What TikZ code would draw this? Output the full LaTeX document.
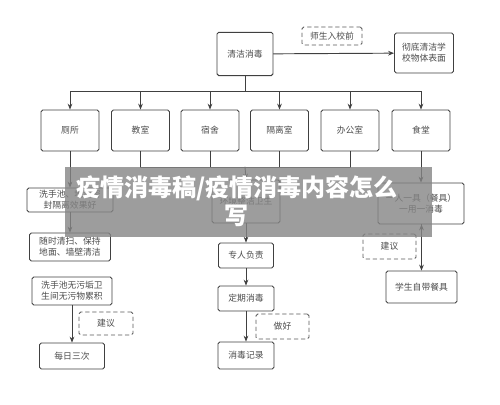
\documentclass[tikz,border=0pt]{standalone}
\usepackage{fontspec}
\setmainfont{Noto Sans CJK SC}
\usepackage{tikz}
\usetikzlibrary{arrows.meta}

\begin{document}
\begin{tikzpicture}
		[x=0.03cm,y=-0.03cm,line cap=round,
		%Styles
		>={Stealth[length=5pt,width=4pt]},
		flow line/.style={thick,draw=black!75},
		main box/.style={rectangle,rounded corners=1.5pt,draw=black!75,thick,fill=white,
			text=black!70,font=\fontsize{7.5}{9.5}\selectfont,align=center,inner sep=1pt},
		hint box/.style={main box,dashed,draw=black!65},
		banner text/.style={text=white,font=\bfseries\fontsize{20.5}{24}\selectfont,align=center}
		]
		
		\useasboundingbox (0,0) rectangle (500,405);
		
		%Top row
		\node[main box,minimum width=1.68cm,minimum height=1.3cm] (clean) at (245, 54) {清洁消毒};
		\node[hint box,minimum width=1.8cm,minimum height=0.54cm] (before) at (332, 36) {师生入校前};
		\node[main box,minimum width=1.77cm,minimum height=1.2cm] (surface) at (424, 53) {彻底清洁学\\校物体表面};
		
		%Places
		\node[main box,minimum width=1.74cm,minimum height=1.23cm] (toilet) at (70, 130.5) {厕所};
		\node[main box,minimum width=1.74cm,minimum height=1.23cm] (classroom) at (140.5, 130.5) {教室};
		\node[main box,minimum width=1.74cm,minimum height=1.23cm] (dorm) at (210, 130.5) {宿舍};
		\node[main box,minimum width=1.74cm,minimum height=1.23cm] (isolation) at (279.5, 130.5) {隔离室};
		\node[main box,minimum width=1.74cm,minimum height=1.23cm] (office) at (350, 130.5) {办公室};
		\node[main box,minimum width=1.74cm,minimum height=1.23cm] (canteen) at (421, 130.5) {食堂};
		
		%Toilet column
		\node[main box,minimum width=2.58cm,minimum height=0.72cm] (drain) at (70, 200) {洗手池、地漏密\\封隔离效果好};
		\node[main box,minimum width=2.43cm,minimum height=0.84cm] (sweep) at (70, 247) {随时清扫、保持\\地面、墙壁清洁};
		\node[main box,minimum width=2.4cm,minimum height=0.84cm] (nostain) at (72, 291) {洗手池无污垢卫\\生间无污物累积};
		\node[hint box,minimum width=1.62cm,minimum height=0.69cm] (adviseA) at (106, 323.5) {建议};
		\node[main box,minimum width=1.95cm,minimum height=0.78cm] (daily) at (72, 356) {每日三次};
		
		%Middle column
		\node[main box,minimum width=2.04cm,minimum height=1.29cm] (tidy) at (246, 201.5) {环境整洁卫生};
		\node[main box,minimum width=1.65cm,minimum height=0.75cm] (duty) at (246, 255.5) {专人负责};
		\node[main box,minimum width=1.68cm,minimum height=0.75cm] (regular) at (246, 298.5) {定期消毒};
		\node[hint box,minimum width=1.59cm,minimum height=0.75cm] (doit) at (282.5, 326.5) {做好};
		\node[main box,minimum width=1.68cm,minimum height=0.81cm] (record) at (246, 355.5) {消毒记录};
		
		%Canteen column
		\node[main box,minimum width=2.58cm,minimum height=1.23cm] (oneeach) at (421, 203.5) {一人一具（餐具）\\一用一消毒};
		\node[hint box,minimum width=1.59cm,minimum height=0.75cm] (adviseB) at (389.5, 246.5) {建议};
		\node[main box,minimum width=2.13cm,minimum height=0.96cm] (owntools) at (421.5, 287) {学生自带餐具};
		
		%Junctions
		\coordinate (split) at (245, 91);
		\coordinate (merge) at (245, 167);
		
		%The connectors
		\draw[flow line,->] (clean) -- (surface);
		\draw[flow line] (clean) -- (split);
		\foreach \place in {toilet,classroom,dorm,isolation,office,canteen}
			\draw[flow line,->] (split) -| (\place.north);
		\foreach \place in {classroom,dorm,isolation,office}
			\draw[flow line] (\place.south) |- (merge);
		\draw[flow line,->] (merge) -- (tidy.north);
		
		\path[flow line,->]
			(toilet)	edge	(drain)
			(drain)	edge	(sweep)
			(nostain)	edge	(daily)
			(tidy)	edge	(duty)
			(duty)	edge	(regular)
			(regular)	edge	(record)
			(canteen)	edge	(oneeach)
			(oneeach.south -| owntools)	edge	(owntools);
		
		%Banner
		\fill[black!48,opacity=0.8] (65, 167) rectangle (432, 237);
		\node[banner text] (title) at (237, 201) {疫情消毒稿/疫情消毒内容怎么\\写};
	\end{tikzpicture}
\end{document}
